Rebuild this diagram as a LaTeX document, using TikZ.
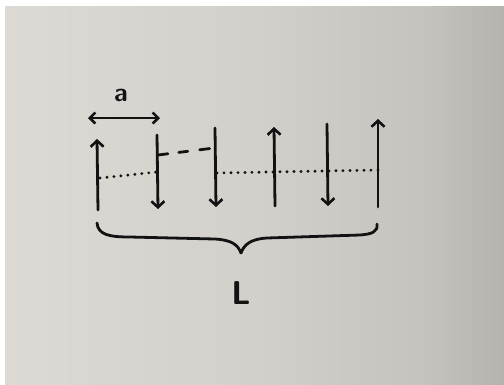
\documentclass[tikz,border=0pt]{standalone}
\usetikzlibrary{arrows.meta}
\definecolor{paperA}{RGB}{221,217,212}
\definecolor{paperB}{RGB}{211,208,203}
\definecolor{paperC}{RGB}{198,195,191}
\definecolor{paperD}{RGB}{182,179,175}
\definecolor{ink}{RGB}{18,18,18}
% paper tone, lighter at the left and darker towards the right edge
\pgfdeclarehorizontalshading{paper}{100bp}{color(0bp)=(paperA); color(25bp)=(paperA);
  color(50bp)=(paperB); color(67bp)=(paperC); color(75bp)=(paperD); color(100bp)=(paperD)}
\tikzset{
  pen/.style={draw=ink, line width=2.8pt, line cap=round, line join=round},
  spin/.style={pen, -{Straight Barb[length=6pt,width=13pt,line width=2.6pt]}},
  dimline/.style={pen, {Straight Barb[length=5.5pt,width=11pt,line width=2.6pt]}-{Straight Barb[length=5.5pt,width=11pt,line width=2.6pt]}},
  dots/.style={draw=ink, line width=3.2pt, line cap=round, dash pattern=on 0pt off 7pt},
  dashes/.style={pen, dash pattern=on 10pt off 11pt on 9pt off 12pt},
  label/.style={text=ink, inner sep=0pt}
}
\begin{document}
\begin{tikzpicture}[x=1pt,y=-1pt]
  \useasboundingbox (0,0) rectangle (504,384);
  % sheet of paper with a light edge at top and left
  \fill[white] (0,0) rectangle (504,384);
  \shade[shading=paper] (5,6) rectangle (504,384);

  % ends of the six spins
  \coordinate (s1b) at (98,210);  \coordinate (s1t) at (97,139);
  \coordinate (s2t) at (157,135); \coordinate (s2b) at (158,209);
  \coordinate (s3t) at (215,128); \coordinate (s3b) at (216,207);
  \coordinate (s4b) at (275,206); \coordinate (s4t) at (274,127);
  \coordinate (s5t) at (327,124); \coordinate (s5b) at (328,206);
  \coordinate (s6b) at (378,207); \coordinate (s6t) at (378,119);

  % spins: up, down, down, up, down, up
  \draw[spin] (s1b) -- (s1t);
  \draw[spin] (s2t) -- (s2b);
  \draw[spin] (s3t) -- (s3b);
  \draw[spin] (s4b) -- (s4t);
  \draw[spin] (s5t) -- (s5b);
  \draw[spin] (s6b) -- (s6t);

  % lattice spacing a
  \coordinate (aL) at (88,118);
  \coordinate (aR) at (160,118);
  \draw[dimline] (aL) -- (aR);
  \node[label, font=\sffamily\bfseries\fontsize{26}{26}\selectfont] (alab) at (121,95) {a};

  % dotted chain through the sites
  \coordinate (d1) at (100,178);
  \coordinate (d2) at (157,172);
  \coordinate (d3) at (217,173);
  \coordinate (d4) at (378,170);
  \draw[dots] (d1) -- (d2);
  \draw[dots] (d3) -- (d4);

  % broken bond between the second and third sites
  \coordinate (b1) at (158,155);
  \coordinate (b2) at (214,148);
  \draw[dashes] (b1) -- (b2);

  % brace spanning the chain
  \coordinate (brL) at (97,223);
  \coordinate (brT) at (241,253);
  \coordinate (brR) at (377,224);
  \draw[pen] (brL) .. controls (98,235) and (110,237) .. (130,237)
    -- (215,239) .. controls (232,240) and (238,245) .. (brT)
    .. controls (244,245) and (250,239) .. (267,238)
    -- (360,235) .. controls (372,234) and (378,232) .. (brR);
  \node[label, font=\sffamily\bfseries\fontsize{33}{33}\selectfont] (Llab) at (241,293) {L};
\end{tikzpicture}
\end{document}
